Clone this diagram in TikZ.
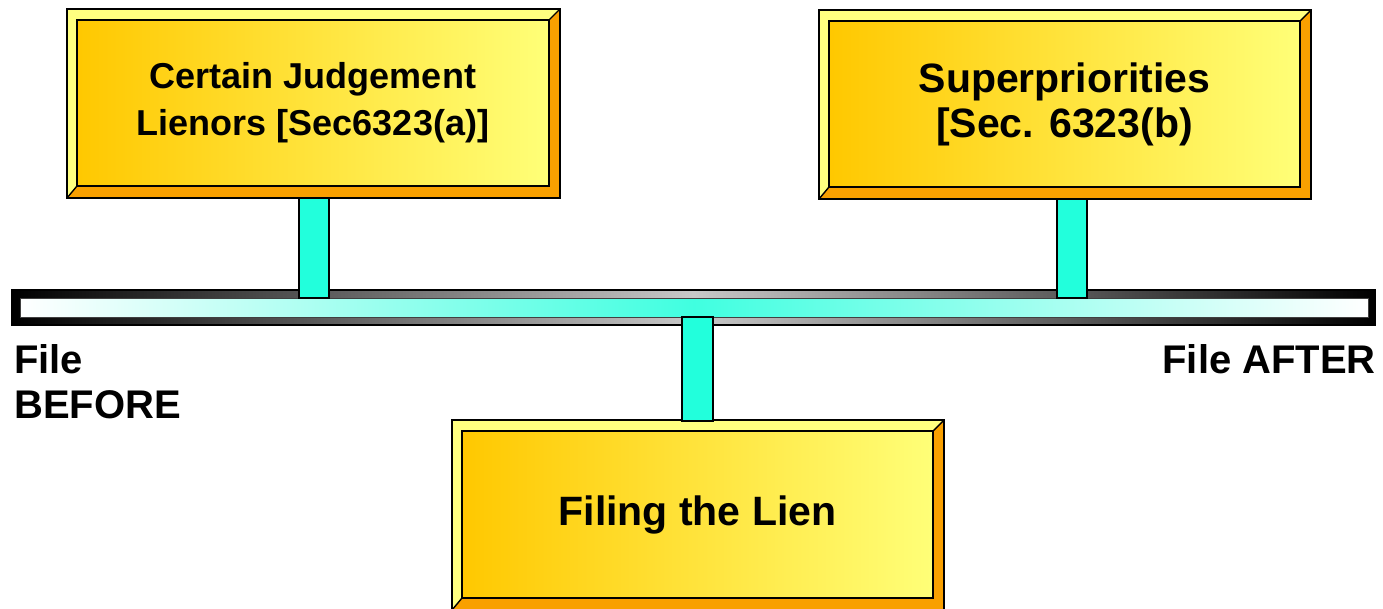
\documentclass[tikz,border=0pt]{standalone}
\usepackage{fontspec}
\setmainfont{Liberation Sans}
\usetikzlibrary{calc}

\definecolor{faceL}{HTML}{FFC800}
\definecolor{faceR}{HTML}{FFFF78}
\definecolor{bevLight}{HTML}{FFFF80}
\definecolor{bevDark}{HTML}{F9A000}
\definecolor{stemC}{HTML}{22FFDC}
\definecolor{trackC}{HTML}{40FFE0}
\definecolor{frameC}{HTML}{C8C8C8}

\tikzset{
  face/.style={left color=faceL, right color=faceR, inner sep=0pt, outer sep=0pt,
    align=center, font=\bfseries},
  outline/.style={draw=black, line width=1.4pt, line join=miter},
  stembar/.style={fill=stemC, draw=black, line width=1.6pt},
  frame/.style={left color=black, right color=black, middle color=frameC,
    draw=black, line width=1.2pt, inner sep=0pt, outer sep=0pt},
  track/.style={left color=white, right color=white, middle color=trackC,
    draw=black!75, line width=1pt, inner sep=0pt, outer sep=0pt},
  sidelabel/.style={font=\bfseries\fontsize{40}{45}\selectfont, inner sep=0pt}
}

% raised bevel around a face node: light band top/left, dark band bottom/right
\newcommand\bevelframe[1]{%
  \fill[bevLight] ($(#1.south west)+(-10,12)$) -- ($(#1.north west)+(-10,-11)$)
    -- ($(#1.north east)+(11,-11)$) -- (#1.north east) -- (#1.north west)
    -- (#1.south west) -- cycle;
  \fill[bevDark] ($(#1.north east)+(11,-11)$) -- ($(#1.south east)+(11,12)$)
    -- ($(#1.south west)+(-10,12)$) -- (#1.south west) -- (#1.south east)
    -- (#1.north east) -- cycle;
  \draw[outline] ($(#1.north west)+(-10,-11)$) rectangle ($(#1.south east)+(11,12)$);
  \draw[outline] (#1.north west) rectangle (#1.south east);
  \draw[outline] (#1.north east) -- ++(11,-11);
  \draw[outline] (#1.south west) -- ++(-10,12);
}

\begin{document}
\begin{tikzpicture}[x=1pt, y=-1pt]
  \useasboundingbox (0,0) rectangle (1383,608);

  % timeline bar
  \node[frame, minimum width=1363pt, minimum height=35pt] (frame) at (693.5,307.5) {};
  \node[track, minimum width=1348pt, minimum height=19pt] (track) at (694,307.5) {};

  % boxes
  \node[face, minimum width=472pt, minimum height=166pt,
        font=\bfseries\fontsize{36}{47}\selectfont] (judg) at (313,103)
        {Certain Judgement\\Lienors [Sec6323(a)]};
  \bevelframe{judg}

  \node[face, minimum width=471pt, minimum height=166pt,
        font=\bfseries\fontsize{41}{45}\selectfont] (super) at (1064.5,104)
        {Superpriorities\\{}[Sec. 6323(b)};
  \bevelframe{super}

  \node[face, minimum width=471pt, minimum height=167pt,
        font=\bfseries\fontsize{41}{46}\selectfont] (filing) at (697.5,514.5)
        {\raisebox{-3pt}{Filing the Lien}};
  \bevelframe{filing}

  % posts joining the boxes to the bar
  \draw[stembar] ($(judg.south)+(-14,12)$) rectangle ($(judg.south |- track.north)+(16,0)$);
  \draw[stembar] ($(super.south)+(-7.5,12)$) rectangle ($(super.south |- track.north)+(22.5,0)$);
  \draw[stembar] ($(filing.north)+(-15.5,-10)$) rectangle ($(filing.north |- track.south)+(15.5,0)$);

  % bar end labels
  \node[sidelabel, anchor=north west, align=left] (before) at (14,344.2) {File\\BEFORE};
  \node[sidelabel, anchor=base east] (after) at (1376,373) {File AFTER};
\end{tikzpicture}
\end{document}
